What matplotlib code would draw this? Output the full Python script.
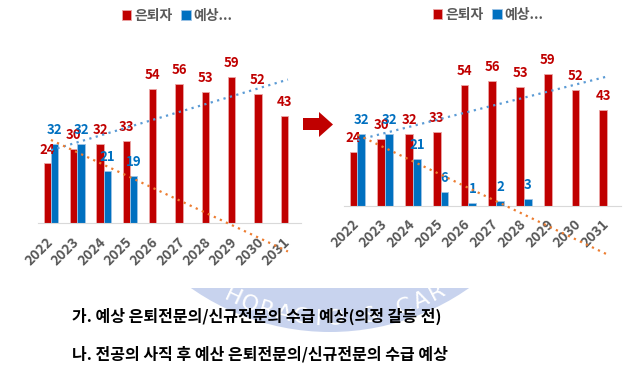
import numpy as np
import matplotlib.pyplot as plt
from matplotlib.patches import Wedge, Polygon, Rectangle

plt.rcParams['font.family'] = ['Noto Sans CJK KR', 'DejaVu Sans']

# data
years = ['2022', '2023', '2024', '2025', '2026', '2027', '2028', '2029', '2030', '2031']
retire = [24, 30, 32, 33, 54, 56, 53, 59, 52, 43]
new_before = [32, 32, 21, 19]
new_after = [32, 32, 21, 6, 1, 2, 3]
legend_labels = ['은퇴자', '예상...']
caption_a = '가. 예상 은퇴전문의/신규전문의 수급 예상(의정 갈등 전)'
caption_b = '나. 전공의 사직 후 예산 은퇴전문의/신규전문의 수급 예상'

RED, BLUE, GRAY = '#C00000', '#0070C0', '#595959'
W = 0.28

fig = plt.figure(figsize=(6.44, 3.84), dpi=100)


def px(l, t, w, h):
    # pixel box (top-left origin) -> figure fraction
    return [l / 644, 1 - (t + h) / 384, w / 644, h / 384]


# decoration layer in pixel coords
deco = fig.add_axes([0, 0, 1, 1], zorder=0)
deco.set_xlim(0, 644)
deco.set_ylim(384, 0)
deco.axis('off')

# faint watermark ring, hidden above by the chart images
clip = Rectangle((0, 288), 644, 96, transform=deco.transData)
ring = Wedge((330, 90), 242, 0, 180, width=48, color='#C8D3EE', lw=0)
deco.add_patch(ring)
ring.set_clip_path(clip)
for i, ch in enumerate('HORACIO & CAR'):
    th = np.radians(115 - 4.4 * i)
    t = deco.text(330 + 229 * np.cos(th), 90 + 229 * np.sin(th), ch,
                  color='white', fontsize=16, ha='center', va='center',
                  rotation=90 - np.degrees(th), family='DejaVu Sans')
    t.set_clip_path(clip)

deco.add_patch(Polygon([(303, 118), (319, 118), (319, 112), (333, 124.5),
                        (319, 137), (319, 130), (303, 130)], color=RED, lw=0))

deco.text(72, 316, caption_a, va='center', fontsize=11.5, fontweight='bold')
deco.text(72, 354, caption_b, va='center', fontsize=11.5, fontweight='bold')


def panel(box, new, leg_xy):
    ax = fig.add_axes(box, zorder=1)
    ax.set_facecolor('none')
    x = np.arange(len(years))
    ax.bar(x[:len(retire)] - W / 2, retire, W, color=RED, edgecolor='#EBA6A6',
           lw=0.6, label=legend_labels[0])
    ax.bar(x[:len(new)] + W / 2, new, W, color=BLUE, edgecolor='#9DC3E6',
           lw=0.6, label=legend_labels[1])
    for vals, off, c in ((retire, -W / 2, RED), (new, W / 2, BLUE)):
        for xi, v in zip(x, vals):
            ax.annotate(str(v), (xi + off, v), xytext=(0, 5), textcoords='offset points',
                        ha='center', va='bottom', color=c, fontsize=9.5, fontweight='bold')
    # linear trendlines, as in the source
    for vals, c in ((retire, '#5B9BD5'), (new, '#ED7D31')):
        k, b = np.polyfit(np.arange(len(vals)), vals, 1)
        ax.plot(x, k * x + b, color=c, lw=1.6, ls=(0, (1, 2)), clip_on=False, zorder=3)
    ax.set_xlim(-0.5, 9.5)
    ax.set_ylim(0, 66)
    ax.set_yticks([])
    for s in ('left', 'right', 'top'):
        ax.spines[s].set_visible(False)
    ax.spines['bottom'].set_color('#D9D9D9')
    ax.set_xticks(x, years, rotation=45, ha='right', va='center', rotation_mode='anchor',
                  fontsize=10, fontweight='bold', color=GRAY)
    ax.tick_params(axis='x', length=0, pad=12)
    ax.legend(loc='center', bbox_to_anchor=(leg_xy[0] / 644, 1 - leg_xy[1] / 384),
              bbox_transform=fig.transFigure, ncol=2, frameon=False,
              handlelength=0.7, handleheight=0.7, handletextpad=0.2, columnspacing=0.6,
              prop={'size': 10, 'weight': 'bold'}, labelcolor=GRAY)
    return ax


panel(px(37.8, 223 - 66 * 2.48, 263.3, 66 * 2.48), new_before, (177, 16))
panel(px(343.6, 205.5 - 66 * 2.23, 277.4, 66 * 2.23), new_after, (488, 15))

fig.savefig('out.png', dpi=100)
